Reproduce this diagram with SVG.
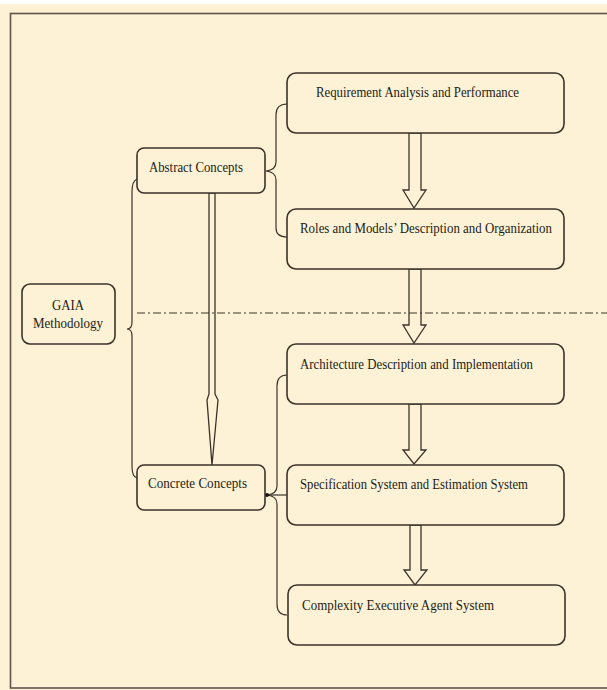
<svg xmlns="http://www.w3.org/2000/svg" width="607" height="690" viewBox="0 0 607 690">
<style>
.box{fill:#fdf2d5;stroke:#3b332b;stroke-width:1.6}
.t{font-family:"Liberation Serif","Times New Roman",serif;font-size:14.5px;fill:#231c16}
.br{fill:none;stroke:#3b332b;stroke-width:1.2}
.ar{fill:#fdf2d5;stroke:#3b332b;stroke-width:1.3;stroke-linejoin:miter}
</style>
<rect x="0" y="0" width="607" height="690" fill="#ffffff"/>
<rect x="0" y="4" width="607" height="686" fill="#fdf2d5"/>
<rect x="10.5" y="13.5" width="700" height="674.5" fill="none" stroke="#5e554b" stroke-width="1.6"/>
<g id="connectors">
<path class="br" d="M137,179 Q132,181 132,192 L132,322 Q132,329 127,329 Q132,329 132,336 L132,466 Q132,477 137,478"/>
<path class="br" d="M287,104 Q276,104 276,115 L276,162 Q276,170 266,171 Q276,172 276,180 L276,228 Q276,237 287,237"/>
<path class="br" d="M287,375 Q277,375 277,386 L277,486 Q277,494 267,495 Q277,496 277,504 L277,604 Q277,615 287,615"/>
<line x1="267" y1="495" x2="287" y2="495" stroke="#3b332b" stroke-width="1.2"/>
<circle cx="267" cy="495" r="2" fill="#1a1410"/>
<polygon class="ar" points="209,193 209,394 207,400 212,465 218,400 215,394 215,193"/>
<polygon class="ar" points="409,133 409,190 403,190 414,208 426,190 421,190 421,133"/>
<polygon class="ar" points="409,269 409,325 403,325 414,343 426,325 421,325 421,269"/>
<polygon class="ar" points="409,404 409,450 403,450 414,464 426,450 421,450 421,404"/>
<polygon class="ar" points="410,525 410,570 404,570 415,585 427,570 421,570 421,525"/>
<line x1="137" y1="313" x2="607" y2="313" stroke="#3b332b" stroke-width="1.1" stroke-dasharray="8 3 2 3"/>
</g>
<g id="gaia">
<rect class="box" x="22" y="284" width="93" height="60" rx="8"/>
<text class="t" x="68" y="310" text-anchor="middle" textLength="32" lengthAdjust="spacingAndGlyphs">GAIA</text>
<text class="t" x="68" y="328" text-anchor="middle" textLength="70" lengthAdjust="spacingAndGlyphs">Methodology</text>
</g>
<g id="abstract">
<rect class="box" x="137" y="148" width="128" height="45" rx="7"/>
<text class="t" x="149" y="172" textLength="94" lengthAdjust="spacingAndGlyphs">Abstract Concepts</text>
</g>
<g id="concrete">
<rect class="box" x="137" y="465" width="128" height="45" rx="7"/>
<text class="t" x="148" y="488" textLength="99" lengthAdjust="spacingAndGlyphs">Concrete Concepts</text>
</g>
<g id="requirement">
<rect class="box" x="287" y="73" width="277" height="60" rx="9"/>
<text class="t" x="316" y="97" textLength="203" lengthAdjust="spacingAndGlyphs">Requirement Analysis and Performance</text>
</g>
<g id="roles">
<rect class="box" x="287" y="209" width="277" height="60" rx="9"/>
<text class="t" x="300" y="233" textLength="252" lengthAdjust="spacingAndGlyphs">Roles and Models’ Description and Organization</text>
</g>
<g id="architecture">
<rect class="box" x="287" y="344" width="277" height="60" rx="9"/>
<text class="t" x="300" y="369" textLength="233" lengthAdjust="spacingAndGlyphs">Architecture Description and Implementation</text>
</g>
<g id="specification">
<rect class="box" x="287" y="465" width="277" height="60" rx="9"/>
<text class="t" x="300" y="489" textLength="228" lengthAdjust="spacingAndGlyphs">Specification System and Estimation System</text>
</g>
<g id="complexity">
<rect class="box" x="288" y="585" width="277" height="60" rx="9"/>
<text class="t" x="302" y="610" textLength="192" lengthAdjust="spacingAndGlyphs">Complexity Executive Agent System</text>
</g>
</svg>
